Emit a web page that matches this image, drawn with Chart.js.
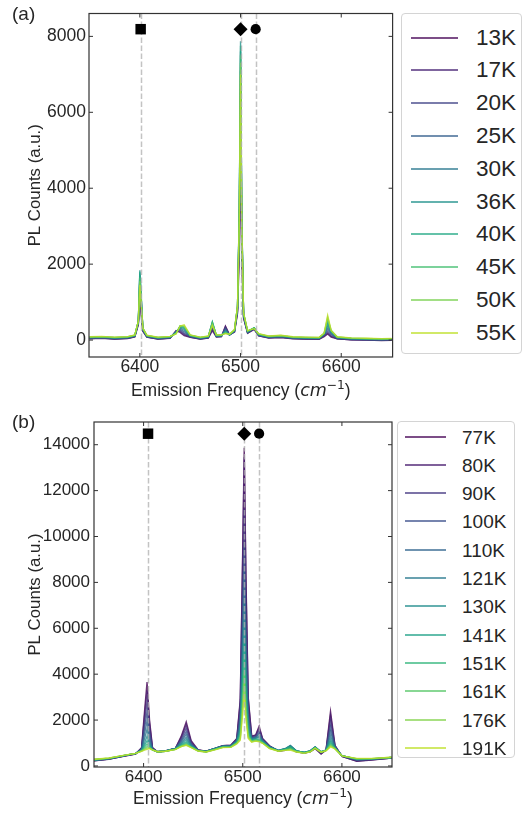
<!DOCTYPE html>
<html>
<head>
<meta charset="utf-8">
<script src="https://cdn.jsdelivr.net/npm/chart.js@4.4.1/dist/chart.umd.min.js"></script>
<style>
  html, body { margin: 0; padding: 0; background: #fff; overflow: hidden; }
  body { width: 522px; height: 815px; position: relative; font-family: "Liberation Sans", Arial, sans-serif; color: #262626; }
  .panel { position: absolute; left: 0; }
  .legend { position: absolute; border: 1px solid #d4d4d4; border-radius: 4px; box-sizing: border-box; background: #fff; }
  .legend .item { position: absolute; left: 0; right: 0; height: 0; }
  .legend .swatch { position: absolute; top: -1px; height: 2px; }
  .legend .name { position: absolute; line-height: 1; transform: translateY(-50%); white-space: nowrap; }
</style>
</head>
<body>
<canvas id="chartA" class="panel" width="400" height="400" style="top:0"></canvas>
<canvas id="chartB" class="panel" width="400" height="415" style="top:400px"></canvas>
<div id="legendA" class="legend" style="left:401px; top:13px; width:121px; height:341px"></div>
<div id="legendB" class="legend" style="left:397px; top:421px; width:118px; height:337px"></div>

<script>
// ---- panel (a): low temperature spectra ----
const tempsA = ["13K", "17K", "20K", "25K", "30K", "36K", "40K", "45K", "50K", "55K"];
const freqA = [6350, 6362, 6375, 6388, 6395, 6398.5, 6400, 6401.5, 6403, 6407, 6418, 6430, 6436, 6440, 6444,
  6450, 6460, 6468, 6472, 6476, 6481, 6485, 6489, 6494, 6497, 6498.8, 6500, 6501.2, 6503, 6507,
  6513.5, 6518, 6528, 6540, 6552, 6565, 6578, 6583, 6586.5, 6590, 6596, 6610, 6625, 6640, 6650];
const countsA = [
  [35, 45, 25, 40, 85, 400, 1000, 600, 230, 75, 25, 45, 250, 200, 120, 75, 25, 55, 250, 80, 90, 370, 140, 210, 700, 2300, 5000, 2100, 580, 180, 280, 110, 55, 65, 35, 25, 20, 90, 160, 80, 30, 5, 0, -10, -5],
  [40, 50, 30, 45, 90, 430, 1200, 700, 240, 80, 30, 50, 240, 230, 150, 80, 30, 60, 290, 85, 95, 350, 140, 215, 750, 2600, 5800, 2450, 600, 185, 290, 115, 60, 70, 40, 30, 25, 110, 190, 100, 35, 10, 2, -6, 0],
  [47, 57, 36, 52, 96, 450, 1400, 820, 255, 86, 36, 56, 230, 260, 180, 90, 36, 66, 330, 90, 96, 320, 135, 222, 780, 2900, 6500, 2750, 620, 192, 300, 120, 66, 80, 46, 36, 32, 125, 230, 135, 42, 16, 9, -1, 4],
  [54, 64, 44, 60, 104, 470, 1600, 940, 268, 94, 44, 64, 220, 290, 220, 98, 44, 74, 380, 98, 104, 290, 133, 233, 820, 3200, 7100, 3000, 648, 203, 310, 128, 74, 88, 54, 44, 40, 140, 290, 168, 50, 24, 16, 6, 11],
  [61, 71, 51, 67, 111, 480, 1750, 1030, 279, 101, 51, 71, 210, 320, 260, 106, 51, 81, 430, 106, 111, 260, 136, 242, 850, 3400, 7600, 3200, 664, 214, 320, 137, 81, 97, 61, 51, 47, 150, 350, 194, 58, 31, 22, 12, 17],
  [68, 78, 58, 74, 118, 490, 1840, 1080, 290, 108, 58, 78, 200, 340, 300, 115, 58, 88, 470, 115, 118, 230, 140, 250, 870, 3550, 7870, 3300, 680, 222, 320, 145, 88, 105, 68, 58, 54, 160, 420, 210, 66, 38, 29, 19, 24],
  [73, 83, 63, 78, 123, 495, 1800, 1060, 299, 113, 63, 83, 190, 360, 330, 121, 63, 93, 480, 121, 123, 210, 144, 259, 880, 3500, 7750, 3250, 694, 229, 320, 151, 93, 111, 73, 63, 59, 170, 480, 229, 72, 43, 33, 23, 28],
  [78, 88, 68, 83, 128, 500, 1650, 980, 306, 118, 68, 88, 180, 370, 350, 126, 68, 98, 460, 126, 128, 190, 148, 266, 890, 3400, 7500, 3150, 703, 236, 320, 156, 98, 116, 78, 68, 63, 175, 550, 243, 77, 48, 38, 28, 33],
  [82, 92, 72, 87, 132, 500, 1550, 930, 312, 122, 72, 92, 170, 380, 370, 132, 72, 102, 420, 132, 132, 180, 152, 272, 900, 3300, 7300, 3100, 712, 242, 310, 162, 102, 122, 82, 72, 67, 178, 600, 250, 82, 52, 42, 32, 37],
  [87, 97, 77, 91, 137, 500, 1450, 870, 315, 127, 77, 97, 160, 370, 400, 137, 77, 107, 380, 137, 137, 170, 155, 277, 900, 3150, 7000, 2950, 715, 247, 300, 167, 107, 127, 87, 77, 72, 180, 650, 255, 87, 57, 47, 37, 42],
];
const colorsA = ["#440154", "#482475", "#414487", "#355f8d", "#2a788e", "#21918c", "#22a884", "#44bf70", "#7ad151", "#bddf26"];
const xTicksA = [6400, 6500, 6600];
const yTicksA = [0, 2000, 4000, 6000, 8000];
const markerFreqA = [6400.8, 6500, 6515];
const markerLevelA = 8190;

// ---- panel (b): high temperature spectra ----
const tempsB = ["77K", "80K", "90K", "100K", "110K", "121K", "130K", "141K", "151K", "161K", "176K", "191K"];
const freqB = [6350, 6365, 6380, 6392, 6398, 6401, 6403.5, 6406, 6409, 6414, 6422, 6432, 6438, 6443, 6448,
  6455, 6463, 6472, 6480, 6488, 6494, 6497.5, 6499.8, 6501.5, 6503.2, 6505.5, 6509, 6513, 6516.5, 6520,
  6527, 6536, 6543, 6548, 6554, 6562, 6568, 6573, 6579, 6584, 6588.5, 6593, 6600, 6615, 6630, 6650];
const countsB = [
  [230, 300, 420, 520, 800, 2400, 3660, 2000, 800, 620, 640, 760, 1300, 1920, 1100, 700, 640, 760, 880, 900, 1200, 2900, 9000, 13870, 8300, 3000, 1300, 1350, 1730, 1200, 880, 640, 680, 800, 620, 560, 620, 750, 520, 700, 2380, 900, 420, 200, 260, 340],
  [230, 290, 430, 530, 780, 2200, 3300, 1850, 780, 620, 650, 760, 1250, 1800, 1050, 700, 640, 760, 880, 900, 1180, 2800, 8700, 13450, 8000, 2900, 1280, 1330, 1650, 1180, 870, 650, 700, 820, 630, 560, 630, 780, 540, 690, 2200, 880, 420, 220, 270, 350],
  [240, 300, 430, 530, 760, 1900, 2800, 1600, 760, 620, 650, 760, 1180, 1650, 1000, 690, 630, 760, 870, 890, 1150, 2450, 7300, 11200, 6700, 2500, 1250, 1300, 1550, 1150, 860, 660, 720, 850, 640, 570, 640, 800, 560, 690, 1950, 860, 430, 240, 280, 350],
  [250, 310, 440, 540, 740, 1650, 2350, 1400, 740, 620, 650, 760, 1120, 1500, 960, 690, 630, 760, 870, 880, 1120, 2200, 6300, 9700, 5800, 2200, 1220, 1270, 1450, 1130, 850, 670, 740, 870, 650, 580, 650, 820, 580, 690, 1700, 840, 440, 260, 290, 360],
  [250, 310, 440, 540, 720, 1400, 1950, 1200, 720, 620, 650, 760, 1060, 1380, 930, 680, 630, 760, 860, 870, 1100, 1950, 5500, 8500, 5100, 2000, 1200, 1250, 1380, 1110, 840, 680, 750, 880, 660, 590, 660, 830, 600, 690, 1500, 820, 450, 270, 300, 360],
  [260, 320, 450, 550, 700, 1180, 1600, 1050, 710, 620, 650, 760, 1000, 1250, 900, 680, 630, 760, 860, 870, 1080, 1750, 4800, 7300, 4400, 1800, 1170, 1220, 1300, 1090, 830, 680, 760, 900, 660, 590, 660, 830, 610, 690, 1300, 800, 450, 280, 300, 370],
  [260, 320, 450, 550, 690, 1000, 1300, 950, 700, 620, 650, 750, 960, 1150, 880, 680, 630, 750, 850, 860, 1060, 1600, 4150, 6300, 3800, 1650, 1150, 1200, 1250, 1070, 820, 680, 750, 880, 660, 590, 660, 820, 620, 690, 1150, 790, 450, 290, 310, 370],
  [270, 330, 450, 550, 680, 900, 1100, 880, 700, 620, 640, 740, 920, 1060, 860, 670, 620, 740, 840, 850, 1040, 1450, 3600, 5400, 3300, 1500, 1120, 1170, 1180, 1050, 800, 670, 740, 850, 650, 590, 650, 810, 620, 690, 1050, 780, 450, 300, 310, 370],
  [270, 330, 450, 550, 670, 820, 950, 830, 700, 620, 640, 730, 890, 1000, 840, 660, 620, 730, 830, 840, 1020, 1350, 3150, 4700, 2900, 1400, 1100, 1140, 1130, 1030, 790, 660, 720, 800, 640, 580, 640, 800, 620, 680, 980, 770, 450, 300, 310, 370],
  [280, 340, 460, 550, 660, 760, 850, 800, 700, 620, 640, 720, 870, 950, 820, 660, 620, 720, 820, 830, 1000, 1250, 2800, 4100, 2550, 1320, 1080, 1120, 1100, 1010, 780, 650, 700, 760, 630, 570, 630, 790, 610, 680, 920, 760, 440, 310, 320, 370],
  [280, 340, 460, 550, 650, 720, 780, 780, 700, 620, 640, 720, 850, 920, 810, 650, 610, 710, 810, 820, 980, 1180, 2500, 3600, 2300, 1250, 1060, 1100, 1070, 1000, 770, 650, 690, 720, 620, 560, 620, 780, 600, 670, 870, 750, 440, 320, 320, 380],
  [290, 350, 460, 550, 640, 690, 720, 760, 700, 620, 640, 710, 840, 900, 800, 650, 610, 700, 800, 810, 960, 1120, 2200, 3100, 2050, 1200, 1040, 1080, 1050, 990, 760, 640, 680, 690, 610, 550, 610, 770, 600, 660, 830, 740, 440, 330, 330, 380],
];
const colorsB = ["#440154", "#481d6f", "#453781", "#3c508b", "#32658e", "#29798e", "#228d8d", "#1fa188", "#30b57b", "#56c667", "#83d34b", "#bddf26"];
const xTicksB = [6400, 6500, 6600];
const yTicksB = [0, 2000, 4000, 6000, 8000, 10000, 12000, 14000];
const markerFreqB = [6404.5, 6501.5, 6516.5];
const markerLevelB = 14480;

const FONT = '"Liberation Sans", Arial, sans-serif';
const MATH_FONT = '"DejaVu Sans", sans-serif';
const INK = "#262626";

const withAlpha = (hex, a) => {
  const n = parseInt(hex.slice(1), 16);
  return `rgba(${(n >> 16) & 255}, ${(n >> 8) & 255}, ${n & 255}, ${a})`;
};

// frame, inward ticks, dashed guides, x title with unit, panel tag
const decoPlugin = {
  id: "panelDeco",
  beforeDatasetDraw(chart, args, opts) {
    // guides go over the spectra but under the marker symbols
    if (args.index !== chart.data.datasets.length - 1) return;
    const { ctx, chartArea: a, scales: { x } } = chart;
    ctx.save();
    ctx.strokeStyle = "rgba(175, 175, 175, 0.75)";
    ctx.lineWidth = 1.5;
    ctx.setLineDash([5.5, 2.5]);
    opts.guides.forEach((f) => {
      const px = Math.round(x.getPixelForValue(f)) + 0.5;
      ctx.beginPath();
      ctx.moveTo(px, a.top);
      ctx.lineTo(px, a.bottom);
      ctx.stroke();
    });
    ctx.restore();
  },
  afterDraw(chart, args, opts) {
    const { ctx, chartArea: a, scales: { x, y } } = chart;
    ctx.save();
    ctx.strokeStyle = "#333";
    ctx.lineWidth = 1.2;
    ctx.strokeRect(a.left, a.top, a.right - a.left, a.bottom - a.top);

    ctx.lineWidth = 1;
    const tick = (x1, y1, x2, y2) => {
      ctx.beginPath();
      ctx.moveTo(x1, y1);
      ctx.lineTo(x2, y2);
      ctx.stroke();
    };
    x.ticks.forEach((t) => {
      const px = x.getPixelForValue(t.value);
      tick(px, a.bottom, px, a.bottom - 4);
      tick(px, a.top, px, a.top + 4);
    });
    y.ticks.forEach((t) => {
      const py = y.getPixelForValue(t.value);
      tick(a.left, py, a.left + 4, py);
      tick(a.right, py, a.right - 4, py);
    });

    // "Emission Frequency (cm^-1)"
    const size = opts.titleSize;
    const parts = [
      { t: "Emission Frequency (", f: `${size}px ${FONT}`, dy: 0 },
      { t: "cm", f: `oblique ${size}px ${MATH_FONT}`, dy: 0 },
      { t: "\u22121", f: `${size * 0.7}px ${MATH_FONT}`, dy: -size * 0.42 },
      { t: ")", f: `${size}px ${FONT}`, dy: 0 },
    ];
    let total = 0;
    parts.forEach((p) => { ctx.font = p.f; p.w = ctx.measureText(p.t).width; total += p.w; });
    let cx = (a.left + a.right) / 2 - total / 2;
    ctx.fillStyle = INK;
    ctx.textBaseline = "alphabetic";
    ctx.textAlign = "left";
    parts.forEach((p) => {
      ctx.font = p.f;
      ctx.fillText(p.t, cx, opts.titleY + size * 0.36 + p.dy);
      cx += p.w;
    });

    ctx.font = `${opts.tagSize}px ${FONT}`;
    ctx.textBaseline = "middle";
    ctx.fillText(opts.tag, 12, opts.tagY);
    ctx.restore();
  },
};

function buildChart(canvas, p) {
  const datasets = p.series.map((ys, i) => ({
    label: p.labels[i],
    data: p.freq.map((f, j) => ({ x: f, y: ys[j] })),
    borderColor: withAlpha(p.colors[i], 0.8),
    borderWidth: 1.4,
    pointRadius: 0,
    tension: 0,
    order: -i,
  }));
  datasets.push({
    label: "markers",
    data: p.markerFreq.map((f) => ({ x: f, y: p.markerLevel })),
    showLine: false,
    pointStyle: ["rect", "rectRot", "circle"],
    pointRadius: [7.4, 7, 5.1],
    pointBackgroundColor: "#000",
    pointBorderColor: "#000",
    pointBorderWidth: 0,
    order: -100,
    clip: false,
  });

  const tickFont = { family: FONT, size: p.tickSize };
  return new Chart(canvas, {
    type: "line",
    data: { datasets },
    plugins: [decoPlugin],
    options: {
      responsive: false,
      animation: false,
      devicePixelRatio: 1,
      layout: { padding: { top: p.padTop, right: p.padRight, left: 0, bottom: 0 } },
      plugins: {
        legend: { display: false },
        tooltip: { enabled: false },
        panelDeco: {
          guides: p.markerFreq,
          titleSize: 17.5,
          titleY: p.titleY,
          tag: p.tag,
          tagSize: 19,
          tagY: p.tagY,
        },
      },
      scales: {
        x: {
          type: "linear",
          min: p.xMin,
          max: p.xMax,
          afterBuildTicks: (s) => { s.ticks = p.xTicks.map((v) => ({ value: v })); },
          afterFit: (s) => { s.height = p.xAxisHeight; },
          grid: { display: false, drawTicks: false },
          border: { display: false },
          ticks: { padding: 0, color: INK, font: tickFont, maxRotation: 0, autoSkip: false, callback: (v) => String(v) },
        },
        y: {
          type: "linear",
          min: p.yMin,
          max: p.yMax,
          afterBuildTicks: (s) => { s.ticks = p.yTicks.map((v) => ({ value: v })); },
          afterFit: (s) => { s.width = p.yAxisWidth; },
          grid: { display: false, drawTicks: false },
          border: { display: false },
          ticks: { padding: p.yPad, color: INK, font: tickFont, autoSkip: false, callback: (v) => String(v) },
          title: {
            display: true,
            text: "PL Counts (a.u.)",
            color: INK,
            font: { family: FONT, size: 16.8 },
            padding: { top: 25, bottom: 0 },
          },
        },
      },
    },
  });
}

function buildLegend(el, labels, colors, o) {
  labels.forEach((name, i) => {
    const item = document.createElement("div");
    item.className = "item";
    item.style.top = `${Math.round(o.first + o.step * i)}px`;
    const sw = document.createElement("div");
    sw.className = "swatch";
    sw.style.left = `${o.lineLeft}px`;
    sw.style.width = `${o.lineWidth}px`;
    sw.style.background = withAlpha(colors[i], 0.7);
    const txt = document.createElement("span");
    txt.className = "name";
    txt.style.left = `${o.textLeft}px`;
    txt.style.fontSize = `${o.fontSize}px`;
    txt.textContent = name;
    item.append(sw, txt);
    el.appendChild(item);
  });
}

buildChart(document.getElementById("chartA"), {
  labels: tempsA, freq: freqA, series: countsA, colors: colorsA,
  xTicks: xTicksA, yTicks: yTicksA, markerFreq: markerFreqA, markerLevel: markerLevelA,
  xMin: 6349.5, xMax: 6651, yMin: -446, yMax: 8603,
  padTop: 12, padRight: 2, xAxisHeight: 43, yAxisWidth: 89, yPad: 3,
  tickSize: 17.5, titleY: 390, tag: "(a)", tagY: 15,
});

buildChart(document.getElementById("chartB"), {
  labels: tempsB, freq: freqB, series: countsB, colors: colorsB,
  xTicks: xTicksB, yTicks: yTicksB, markerFreq: markerFreqB, markerLevel: markerLevelB,
  xMin: 6350, xMax: 6650.5, yMin: -45, yMax: 14990,
  padTop: 22, padRight: 8, xAxisHeight: 48, yAxisWidth: 94, yPad: 4,
  tickSize: 17, titleY: 398, tag: "(b)", tagY: 22.5,
});

buildLegend(document.getElementById("legendA"), tempsA, colorsA,
  { first: 23.5, step: 32.8, lineLeft: 9, lineWidth: 47, textLeft: 74, fontSize: 22.5 });
buildLegend(document.getElementById("legendB"), tempsB, colorsB,
  { first: 14.5, step: 28.33, lineLeft: 7, lineWidth: 41, textLeft: 64, fontSize: 19 });
</script>
</body>
</html>
